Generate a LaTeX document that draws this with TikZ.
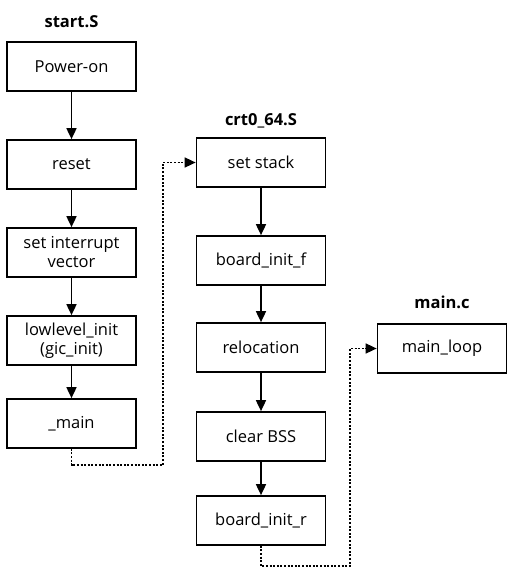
\documentclass[tikz,border=0pt]{standalone}
\usepackage{fontspec}
\setmainfont{Open Sans}
\usetikzlibrary{arrows.meta}
\begin{document}
\begin{tikzpicture}[x=1pt,y=-1pt,
  box/.style={draw,line width=1.7pt,minimum width=129pt,minimum height=49pt,align=center,inner sep=2pt,font=\fontsize{16.5}{19}\selectfont},
  title/.style={font=\bfseries\fontsize{16.5}{19}\selectfont},
  flow/.style={line width=1.7pt,-{Triangle[width=10pt,length=11pt]}},
  dflow/.style={line width=1.5pt,dash pattern=on 2pt off 1.6pt,-{Triangle[width=10pt,length=11pt]}}]
\useasboundingbox (0,0) rectangle (515,568);
\node[title] (t1) at (71.5,22) {start.S};
\node[title] (t2) at (261,121) {crt0\_64.S};
\node[title] (t3) at (442,302) {main.c};
\node[box] (pw) at (71.5,66.5) {Power-on};
\node[box] (rs) at (71.5,164.5) {reset};
\node[box] (iv) at (71.5,252.5) {set interrupt\\vector};
\node[box] (li) at (71.5,340.5) {lowlevel\_init\\(gic\_init)};
\node[box] (mn) at (71.5,423.5) {\_main};
\node[box] (ss) at (261,162.5) {set stack};
\node[box] (bf) at (261,260.5) {board\_init\_f};
\node[box] (rl) at (261,347.5) {relocation};
\node[box] (cb) at (261,436.5) {clear BSS};
\node[box] (br) at (261,520.5) {board\_init\_r};
\node[box] (ml) at (442,348.5) {main\_loop};
\draw[flow] (pw) -- (rs);
\draw[flow] (rs) -- (iv);
\draw[flow] (iv) -- (li);
\draw[flow] (li) -- (mn);
\draw[flow] (ss) -- (bf);
\draw[flow] (bf) -- (rl);
\draw[flow] (rl) -- (cb);
\draw[flow] (cb) -- (br);
\coordinate (c1) at (163,465);
\coordinate (c2) at (350,566);
\draw[dflow] (mn.south) |- (c1) |- (ss.west);
\draw[dflow] (br.south) |- (c2) |- (ml.west);
\end{tikzpicture}
\end{document}
